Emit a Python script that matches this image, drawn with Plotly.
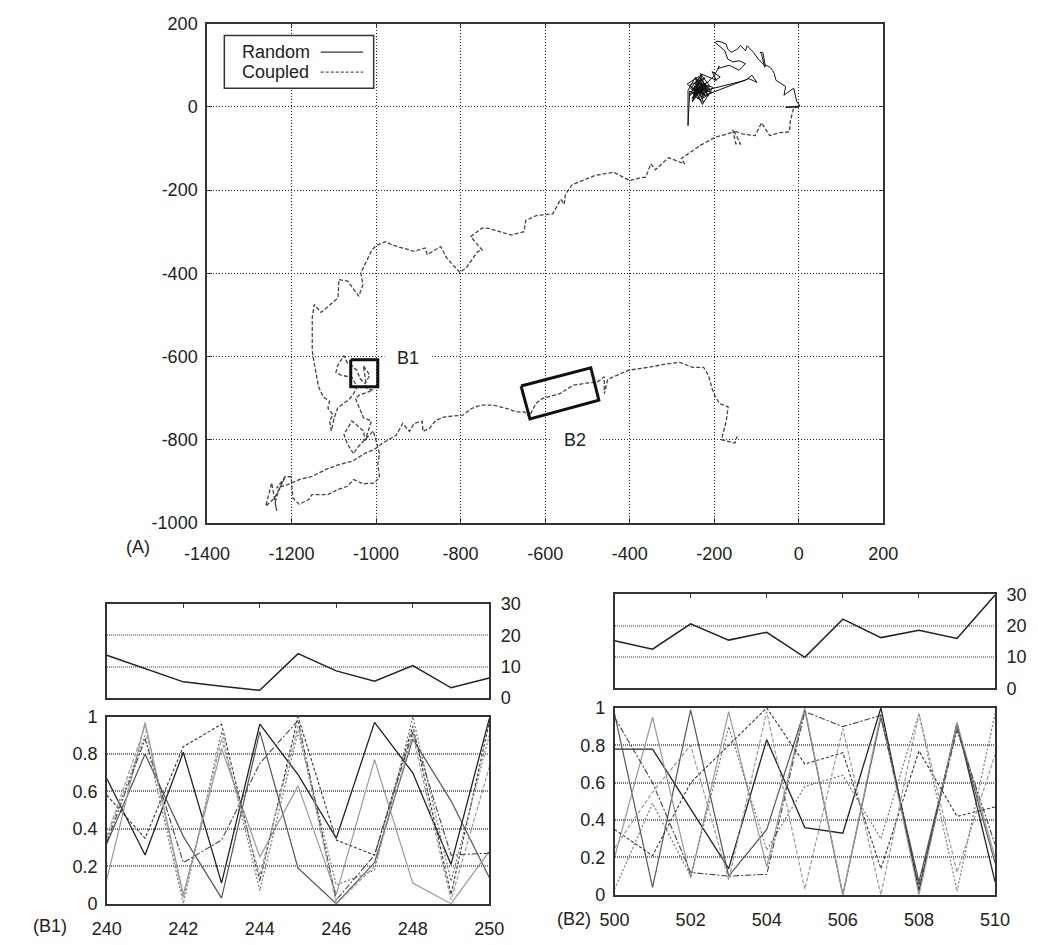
import plotly.graph_objects as go

# ---------------- data: main panel (A) ----------------
coupled_x = [0, -12, -20, -22, -45, -69, -88, -103, -134, -156, -149, -138, -152, -198, -232, -278, -270,
             -308, -339, -350, -362, -377, -400, -438, -483, -536, -552, -555, -563, -582, -620, -646,
             -650, -680, -734, -749, -776, -749, -760, -787, -802, -833, -847, -879, -884, -910, -962,
             -978, -999, -1010, -1036, -1031, -1041, -1067, -1088, -1090, -1130, -1146, -1151, -1151,
             -1146, -1136, -1125, -1110, -1114, -1102, -1110, -1106, -1099, -1091, -1076, -1064, -1053,
             -1045, -1057, -1083, -1095, -1091, -1076, -1068, -1057, -1045, -1038, -1026, -1015, -1030,
             -1022, -1007, -1038, -1049, -1030, -1022, -1011, -1026, -1030, -1057, -1076, -1068, -1057,
             -1053, -1045, -1007, -1000, -992, -996, -992, -1003, -1030, -1053, -1068, -1091, -1114,
             -1152, -1159, -1182, -1197, -1201, -1216, -1231, -1239, -1235, -1247, -1261, -1240, -1214,
             -1235, -1209, -1182, -1151, -1120, -1088, -1057, -1025, -1005, -984, -952, -937, -921,
             -910, -891, -889, -874, -858, -837, -795, -774, -753, -722, -690, -670, -649, -638, -622,
             -607, -565, -533, -502, -476, -460, -460, -452, -403, -356, -314, -282, -251, -225, -214,
             -204, -199, -188, -167, -172, -183, -151, -146]
coupled_y = [0, -2, -34, -60, -62, -69, -38, -69, -65, -56, -89, -89, -60, -73, -92, -124, -137,
             -122, -151, -137, -169, -171, -177, -157, -165, -187, -210, -234, -222, -257, -261, -273,
             -300, -308, -292, -291, -312, -344, -348, -387, -398, -363, -336, -355, -339, -347, -332,
             -324, -333, -344, -399, -427, -455, -419, -415, -459, -494, -475, -506, -586,
             -618, -673, -697, -708, -724, -740, -755, -779, -747, -724, -712, -704, -689,
             -673, -650, -645, -638, -622, -598, -615, -622, -634, -653, -665, -645, -622,
             -677, -681, -692, -700, -747, -751, -755, -802, -779, -755, -787, -810, -826,
             -834, -820, -779, -802, -834, -857, -889, -904, -906, -896, -912, -920, -932,
             -932, -944, -955, -940, -889, -889, -924, -951, -971, -904, -960, -940, -888,
             -916, -908, -896, -888, -872, -860, -852, -832, -824, -808, -789, -761, -780,
             -761, -756, -780, -773, -753, -745, -741, -725, -717, -717, -725, -733, -733, -745, -713,
             -701, -689, -669, -664, -661, -649, -689, -655, -633, -626, -618, -614, -626, -626, -645,
             -680, -693, -713, -721, -757, -800, -808, -792]

random_x = [0, -31, 3, -5, -12, -35, -31, -43, -54, -58, -62, -69, -77, -81, -88, -92, -85, -79, -96,
            -107, -122, -126, -138, -145, -160, -168, -172, -183, -194, -198, -190, -175, -168, -156,
            -141, -126, -141, -164, -179, -191, -188, -200, -215, -240, -250, -228, -245, -220, -236,
            -255, -230, -212, -240, -225, -248, -218, -238, -205, -232, -240, -118, -99, -111, -126,
            -240, -258, -222, -246, -228, -214, -236, -252, -231, -219, -244, -262, -262, -258, -243,
            -227, -250, -233, -210, -226, -241, -235, -222, -248, -230, -215, -242, -226, -238, -221,
            -247, -233, -218, -240, -264, -229, -252, -237, -209, -244, -225, -256, -232, -216, -249,
            -239, -203, -228, -246, -221, -236, -258, -224, -242, -211, -233, -195, -205, -186, -200]
random_y = [0, -1, 2, 13, 45, 28, 49, 56, 64, 80, 88, 96, 100, 96, 127, 131, 131, 98, 115,
            131, 147, 135, 148, 139, 131, 139, 151, 156, 158, 155, 148, 135, 115, 108,
            111, 104, 88, 100, 96, 92, 98, 75, 60, 45, 45, 30, 60, 50, 25,
            35, 65, 40, 50, 10, 28, 58, 42, 35, 18, 21, 68, 59, 76, 64,
            35, 52, 70, 38, 55, 26, 62, 20, 48, 33, 72, 40, -45, 38, 30,
            47, 15, 66, 44, 29, 52, 36, 45, 24, 57, 38, 43, 31, 50, 27,
            46, 62, 41, 34, 55, 78, 12, 49, 40, 67, 22, 44, 74, 36, 31,
            58, 47, 6, 40, 53, 70, 27, 60, 37, 51, 80, 64, 85, 72, 62]

x_ticks_main = [-1400, -1200, -1000, -800, -600, -400, -200, 0, 200]
y_ticks_main = [-1000, -800, -600, -400, -200, 0, 200]

b1_box_x = [-1060, -996, -996, -1060, -1060]
b1_box_y = [-608, -608, -673, -673, -608]
b2_box_x = [-657, -492, -473, -636, -657]
b2_box_y = [-671, -627, -705, -750, -671]

# ---------------- data: panels B1 / B2 ----------------
b1_t = [240, 241, 242, 243, 244, 245, 246, 247, 248, 249, 250]
b1_top = [13.7, 9.4, 5.2, 3.8, 2.5, 14.2, 8.7, 5.4, 10.4, 3.3, 6.4]
b1_lines = [
    [0.67, 0.26, 0.81, 0.11, 0.96, 0.69, 0.35, 0.97, 0.70, 0.21, 0.99],
    [0.32, 0.80, 0.36, 0.03, 0.92, 0.19, 0.00, 0.22, 0.88, 0.55, 0.14],
    [0.13, 0.97, 0.05, 0.83, 0.25, 0.63, 0.05, 0.77, 0.11, 0.00, 0.28],
    [0.58, 0.35, 0.84, 0.96, 0.12, 1.00, 0.34, 0.26, 0.95, 0.05, 0.97],
    [0.35, 0.90, 0.00, 0.92, 0.07, 0.92, 0.10, 0.18, 1.00, 0.12, 0.90],
    [0.33, 0.88, 0.22, 0.34, 0.75, 0.98, 0.02, 0.26, 0.92, 0.26, 0.27],
    [0.36, 0.95, 0.03, 0.88, 0.15, 0.95, 0.00, 0.20, 0.90, 0.02, 0.73],
]
b2_t = [500, 501, 502, 503, 504, 505, 506, 507, 508, 509, 510]
b2_top = [15.2, 12.5, 20.6, 15.4, 17.9, 9.9, 22.1, 16.2, 18.5, 15.9, 29.8]
b2_lines = [
    [0.78, 0.78, 0.46, 0.14, 0.83, 0.36, 0.33, 1.00, 0.02, 0.92, 0.07],
    [0.97, 0.04, 0.99, 0.10, 0.35, 0.99, 0.00, 0.95, 0.07, 0.90, 0.17],
    [0.20, 0.95, 0.09, 0.98, 0.15, 1.00, 0.00, 0.97, 0.00, 0.92, 0.20],
    [0.35, 0.21, 0.60, 0.80, 1.00, 0.70, 0.76, 0.14, 0.77, 0.42, 0.47],
    [0.03, 0.49, 0.10, 0.90, 0.24, 0.58, 0.64, 0.30, 0.97, 0.02, 0.97],
    [0.95, 0.60, 0.12, 0.10, 0.11, 0.98, 0.90, 0.96, 0.05, 0.88, 0.27],
    [0.25, 0.55, 0.80, 0.08, 0.98, 0.03, 0.89, 0.00, 0.97, 0.12, 0.75],
]
b_ticks_top = [0, 10, 20, 30]
b_ticks_bottom = [0, 0.2, 0.4, 0.6, 0.8, 1]

line_styles = [
    dict(color="#222", dash="solid", width=1.3),
    dict(color="#555", dash="solid", width=1.2),
    dict(color="#999", dash="solid", width=1.2),
    dict(color="#333", dash="3px,2px", width=1.1),
    dict(color="#777", dash="2px,2px", width=1.2),
    dict(color="#444", dash="6px,2px,2px,2px", width=1.1),
    dict(color="#999", dash="4px,2px", width=1.2),
]

FONT = "Liberation Sans, Arial, Helvetica, sans-serif"
TXT = "#222"
FS = 18
FW, FH = 1038, 945


def px(x):
    return x / FW


def py(y):
    return 1 - y / FH


def lab(v):
    return [("%g" % t) for t in v]


fig = go.Figure()

# main panel traces
fig.add_trace(go.Scatter(x=coupled_x, y=coupled_y, mode="lines", name="Coupled",
                         line=dict(color="#444", width=1.3, dash="4px,2px"), xaxis="x", yaxis="y"))
fig.add_trace(go.Scatter(x=random_x, y=random_y, mode="lines", name="Random",
                         line=dict(color="#111", width=1), xaxis="x", yaxis="y"))
fig.add_trace(go.Scatter(x=b1_box_x, y=b1_box_y, mode="lines", name="B1 region",
                         line=dict(color="#111", width=3), xaxis="x", yaxis="y"))
fig.add_trace(go.Scatter(x=b2_box_x, y=b2_box_y, mode="lines", name="B2 region",
                         line=dict(color="#111", width=3), xaxis="x", yaxis="y"))

# B1 panels
fig.add_trace(go.Scatter(x=b1_t, y=b1_top, mode="lines", line=dict(color="#222", width=1.5),
                         xaxis="x2", yaxis="y2"))
for vals, st in zip(b1_lines, line_styles):
    fig.add_trace(go.Scatter(x=b1_t, y=vals, mode="lines", line=st, xaxis="x3", yaxis="y3"))
# B2 panels
fig.add_trace(go.Scatter(x=b2_t, y=b2_top, mode="lines", line=dict(color="#222", width=1.5),
                         xaxis="x4", yaxis="y4"))
for vals, st in zip(b2_lines, line_styles):
    fig.add_trace(go.Scatter(x=b2_t, y=vals, mode="lines", line=st, xaxis="x5", yaxis="y5"))

frame = dict(showline=True, linecolor="#333", linewidth=1.5, mirror=True, zeroline=False,
             tickfont=dict(family=FONT, size=FS, color=TXT))
frame_main = {**frame, "mirror": "ticks"}

main_x_dom = [px(191), px(893)]
main_y_dom = [py(524), py(14)]
b1_x_dom = [px(87), px(484)]
b2_x_dom = [px(614), px(1009)]

fig.update_layout(
    width=FW, height=FH, margin=dict(l=0, r=0, t=0, b=0, pad=0),
    paper_bgcolor="white", plot_bgcolor="white", showlegend=False,
    xaxis=dict(domain=main_x_dom, anchor="y", range=[-1400, 200], tickvals=x_ticks_main,
               ticktext=lab(x_ticks_main),
               showgrid=True, gridcolor="#222", griddash="1px,2px", gridwidth=1,
               ticks="inside", ticklen=5, tickcolor="#333", ticklabelstandoff=14, **frame_main),
    yaxis=dict(domain=main_y_dom, anchor="x", range=[-1000, 200], tickvals=y_ticks_main,
               ticktext=lab(y_ticks_main),
               showgrid=True, gridcolor="#222", griddash="1px,2px", gridwidth=1,
               ticks="inside", ticklen=5, tickcolor="#333", ticklabelstandoff=4, **frame_main),
    # B1 top
    xaxis2=dict(domain=b1_x_dom, anchor="y2", range=[240, 250], dtick=2, side="top",
                showticklabels=False, ticks="inside", ticklen=4, tickcolor="#333",
                showgrid=False, **frame),
    yaxis2=dict(domain=[py(703), py(607)], anchor="x2", range=[0, 30], tickvals=b_ticks_top,
                ticktext=lab(b_ticks_top), side="right",
                showgrid=True, gridcolor="#999", griddash="1px,1px", gridwidth=1.5,
                ticks="", ticklabelstandoff=6, **frame),
    # B1 bottom
    xaxis3=dict(domain=b1_x_dom, anchor="y3", range=[240, 250], tickvals=b1_t[::2],
                ticktext=lab(b1_t[::2]), showgrid=False,
                ticks="", ticklabelstandoff=8, **frame),
    yaxis3=dict(domain=[py(913), py(722)], anchor="x3", range=[0, 1], tickvals=b_ticks_bottom,
                ticktext=lab(b_ticks_bottom),
                showgrid=True, gridcolor="#777", griddash="1px,1px", gridwidth=1.5,
                ticks="", ticklabelstandoff=4, **frame),
    # B2 top
    xaxis4=dict(domain=b2_x_dom, anchor="y4", range=[500, 510], dtick=2, side="top",
                showticklabels=False, ticks="inside", ticklen=4, tickcolor="#333",
                showgrid=False, **frame),
    yaxis4=dict(domain=[py(693), py(597)], anchor="x4", range=[0, 30], tickvals=b_ticks_top,
                ticktext=lab(b_ticks_top), side="right",
                showgrid=True, gridcolor="#999", griddash="1px,1px", gridwidth=1.5,
                ticks="", ticklabelstandoff=6, **frame),
    # B2 bottom
    xaxis5=dict(domain=b2_x_dom, anchor="y5", range=[500, 510], tickvals=b2_t[::2],
                ticktext=lab(b2_t[::2]), showgrid=False,
                ticks="", ticklabelstandoff=8, **frame),
    yaxis5=dict(domain=[py(904), py(713)], anchor="x5", range=[0, 1], tickvals=b_ticks_bottom,
                ticktext=lab(b_ticks_bottom),
                showgrid=True, gridcolor="#777", griddash="1px,1px", gridwidth=1.5,
                ticks="", ticklabelstandoff=4, **frame),
)

# manual legend (text then line sample, as in the original)
fig.add_shape(type="rect", xref="paper", yref="paper", x0=px(209), x1=px(364), y0=py(80), y1=py(26),
              line=dict(color="#333", width=1.5), fillcolor="white", layer="above")
fig.add_shape(type="line", xref="paper", yref="paper", x0=px(309), x1=px(353), y0=py(43), y1=py(43),
              line=dict(color="#333", width=1.2), layer="above")
fig.add_shape(type="line", xref="paper", yref="paper", x0=px(309), x1=px(353), y0=py(63.5), y1=py(63.5),
              line=dict(color="#555", width=1.2, dash="3px,2px"), layer="above")

annots = [
    dict(text="Random", x=px(225), y=py(43), xanchor="left"),
    dict(text="Coupled", x=px(225), y=py(63.5), xanchor="left"),
    dict(text="(A)", x=px(119), y=py(549), xanchor="center"),
    dict(text="(B1)", x=px(28), y=py(936), xanchor="center"),
    dict(text="(B2)", x=px(572), y=py(929), xanchor="center"),
]
for a in annots:
    fig.add_annotation(xref="paper", yref="paper", yanchor="middle", showarrow=False,
                       font=dict(family=FONT, size=FS, color=TXT), **a)

for label, lx, ly in [("B1", -924, -603), ("B2", -529, -801)]:
    fig.add_annotation(x=lx, y=ly, xref="x", yref="y", text=label, showarrow=False,
                       bgcolor="white", borderpad=0, font=dict(family=FONT, size=FS, color=TXT),
                       width=46, height=20)

fig.write_html("out.html")
